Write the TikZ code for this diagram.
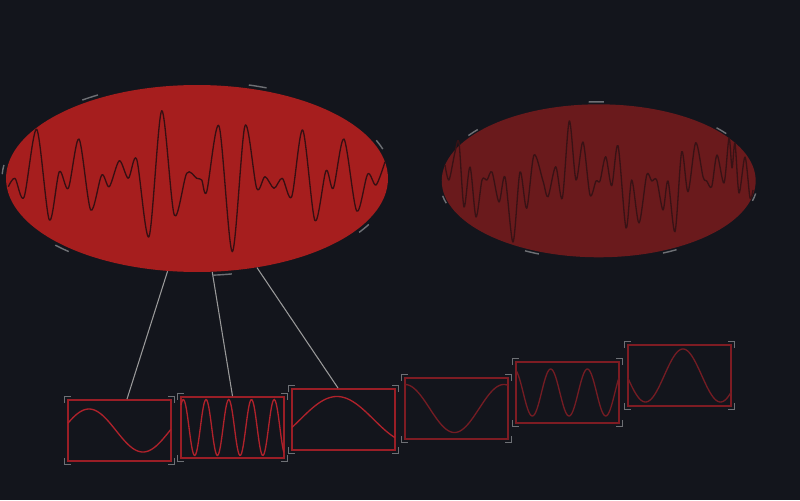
\documentclass[tikz,border=0pt]{standalone}
\usepackage{tikz}
\usetikzlibrary{shapes.geometric}
\definecolor{bgdark}{HTML}{13151C}
\definecolor{redhot}{HTML}{A61E1E}
\definecolor{reddim}{HTML}{6A1A1C}
\definecolor{inkhot}{HTML}{360F12}
\definecolor{inkdim}{HTML}{381215}
\definecolor{tickgray}{HTML}{6E7075}
\definecolor{linkgray}{HTML}{9A9A9A}
\definecolor{rimon}{HTML}{9A1E26}
\definecolor{rimoff}{HTML}{7E1C23}
\definecolor{traceon}{HTML}{B0222B}
\definecolor{traceoff}{HTML}{741C23}
\tikzset{
  blob/.style={ellipse, inner sep=0pt},
  signal/.style={line width=0.75pt, line join=round},
  tick/.style={draw=tickgray, line width=0.8pt},
  link/.style={draw=linkgray, line width=0.6pt},
  panel/.style={rectangle, line width=1.1pt, minimum width=2.06cm, minimum height=1.22cm, inner sep=0pt},
  trace/.style={line width=0.75pt},
  bracket/.style={draw=tickgray, line width=0.85pt},
}
\begin{document}
\begin{tikzpicture}[x=0.02cm, y=-0.02cm]
  \fill[bgdark] (0,0) rectangle (800,500);
  \useasboundingbox (0,0) rectangle (800,500);

  % the two blobs
  \node[blob, fill=redhot, minimum width=7.64cm, minimum height=3.74cm] (big) at (197,178.5) {};
  \node[blob, fill=reddim, minimum width=6.28cm, minimum height=3.06cm] (small) at (598.7,180.8) {};

  \draw[signal, inkhot] plot[smooth] coordinates {
    (8.3,186.7) (15,178.3) (24,197.3) (36.7,129.3) (49.3,220) (59.3,171.7)
    (68.3,188.3) (79,139) (90.7,210) (101.7,175) (109.3,186.7) (119.3,160.7)
    (128.3,178.3) (136.7,159.3) (149,236.7) (161.7,110.7) (174.3,215)
    (186.7,173.3) (196.7,178.3) (201.7,180) (206.7,191.7) (219,126)
    (232.3,251.7) (245,125.7) (256.7,188.3) (265,176.7) (274,188.3)
    (282.3,178.3) (291.7,196.7) (302.7,130) (315,220.7) (326,170.7)
    (333.3,188.3) (344,139) (356.7,211) (367.7,174) (376,185) (385,161.7)};

  \draw[signal, inkdim] plot[smooth] coordinates {
    (445,165) (449,180) (455,152) (459,143) (464,207) (470,167) (476,217)
    (482,180) (487,180) (492,172) (499,202) (505,177) (513,242) (520,172)
    (526.7,208.3) (534,155) (543,181) (548,196.7) (555.7,166.7) (562.3,198.3)
    (569.3,121) (576,180) (583,142) (590,195) (596,181) (600,181)
    (605.7,156.7) (611.7,185.7) (618,145.7) (626,228) (631.7,180) (639,223)
    (646.7,175) (651.7,181) (656.7,180) (663,210) (668,181) (675,231.7)
    (681.7,151.7) (688,191.7) (695.7,142.7) (703,176.7) (706.7,181)
    (711.7,186.7) (717,155) (724,183) (729,138) (732,168) (735,143)
    (739,193) (745,157) (750,198) (753,190)};

  % dashes round the blobs
  \foreach \k in {0,...,6} {
    \draw[tick] (197,178.5) ++({28.25+51.43*\k}:195 and 97)
      arc[start angle={28.25+51.43*\k}, delta angle=5.5, x radius=195, y radius=97];
    \draw[tick] (598.7,180.8) ++({9.25+51.43*\k}:159 and 79)
      arc[start angle={9.25+51.43*\k}, delta angle=5.5, x radius=159, y radius=79];
  }

  % panels
  \foreach \n/\cx/\cy/\amp/\rate/\ph/\lc/\wc in {
      1/119.5/430.5/21.5/343.5/-70/rimon/traceon,
      2/232.5/427.5/28/1632/-36.7/rimon/traceon,
      3/343.5/419.5/23/252/-110/rimon/traceon,
      4/456.5/408.5/24/375/0/rimoff/traceoff,
      5/567.5/392.5/23.5/1010/20/rimoff/traceoff,
      6/679.5/375.5/26.5/494.5/-264/rimoff/traceoff} {
    \node[panel, draw=\lc] (b\n) at (\cx,\cy) {};
    \draw[trace, draw=\wc] plot[domain=0:1, samples=120, smooth]
      ({\cx-51.5+103*\x}, {\cy-\amp*cos(\rate*\x+\ph)});
    \foreach \c/\ox/\oy/\ax/\ay in {north west/-0.05/0.05/0.12/-0.12,
        north east/0.05/0.05/-0.12/-0.12, south west/-0.05/-0.05/0.12/0.12,
        south east/0.05/-0.05/-0.12/0.12}
      \draw[bracket] ([shift={(\ox cm,\oy cm)}]b\n.\c) +(0,\ay cm) -- +(0,0) -- +(\ax cm,0);
  }

  \draw[link] (big) -- ([xshift=0.15cm]b1.north);
  \draw[link] (big) -- (b2.north);
  \draw[link] (big) -- ([xshift=-0.11cm]b3.north);
\end{tikzpicture}
\end{document}
